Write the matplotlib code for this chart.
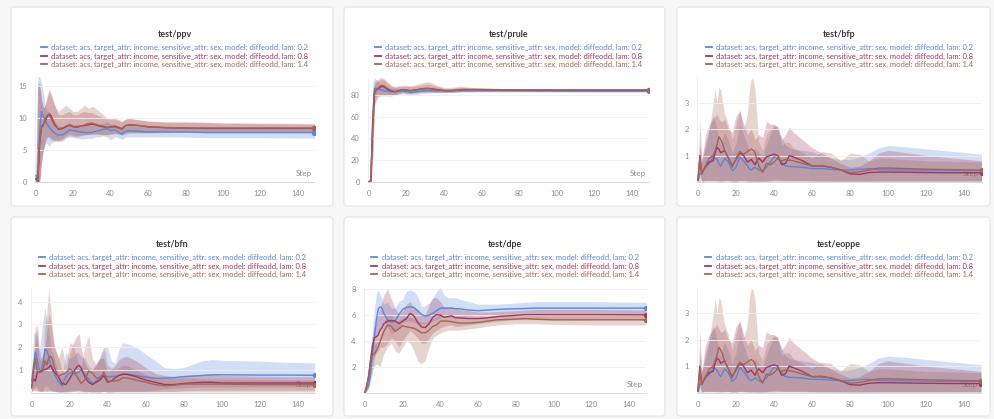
import matplotlib
matplotlib.use("Agg")
import matplotlib.pyplot as plt
from matplotlib.lines import Line2D
from matplotlib.patches import FancyBboxPatch

# run names and colours
run_labels = [
    "dataset: acs, target_attr: income, sensitive_attr: sex, model: diffeodd, lam: 0.2",
    "dataset: acs, target_attr: income, sensitive_attr: sex, model: diffeodd, lam: 0.8",
    "dataset: acs, target_attr: income, sensitive_attr: sex, model: diffeodd, lam: 1.4",
]
run_colors = ["#5a86d8", "#a3365f", "#a6654f"]

# ---- test/ppv ----
ppv_steps = [0, 1, 2, 3, 4, 5, 6, 7, 8, 10, 12, 14, 16, 18, 20, 22, 24, 26, 28, 30, 32, 34, 36, 38,
             40, 42, 44, 46, 48, 50, 55, 60, 70, 80, 90, 100, 120, 149]
ppv_b = [1.0, 0.0, 8.0, 11.0, 10.2, 9.6, 9.0, 8.6, 8.2, 7.6, 7.3, 7.3, 7.7, 8.1, 8.0, 7.9, 7.8, 7.7, 7.7,
         7.7, 7.9, 8.0, 8.2, 8.3, 8.0, 8.1, 7.8, 7.5, 7.9, 8.0, 7.9, 7.8, 7.8, 7.8, 7.7, 7.7, 7.7, 7.7]
ppv_b_lo = [0, 0, 0, 4, 5, 6, 6, 5.5, 6, 6.3, 6.5, 6.3, 6.8, 7.0, 7.0, 6.8, 6.7, 6.7, 6.8, 6.8, 7.0, 7.0,
            7.2, 7.0, 6.5, 7.0, 6.9, 6.6, 7.0, 7.0, 7.0, 7.0, 7.0, 7.0, 6.9, 6.9, 6.9, 6.8]
ppv_b_hi = [1.5, 16.5, 16.5, 15.5, 14, 12, 11, 11, 10.5, 9.5, 8.8, 8.6, 9.0, 9.2, 9.0, 9.0, 9.0, 8.8, 8.8,
            8.8, 8.9, 9.0, 9.2, 9.4, 9.0, 9.0, 8.8, 8.4, 8.7, 8.8, 8.7, 8.6, 8.5, 8.5, 8.5, 8.5, 8.5, 8.5]
ppv_r = [0.5, 0.0, 6.0, 8.6, 9.0, 9.5, 10.2, 10.6, 10.4, 9.0, 8.2, 8.3, 8.6, 8.9, 8.6, 8.6, 8.7, 8.8, 8.9,
         9.0, 8.9, 8.7, 8.6, 8.5, 8.6, 8.7, 8.5, 8.3, 8.8, 8.9, 8.8, 8.6, 8.45, 8.4, 8.35, 8.35, 8.35, 8.35]
ppv_r_lo = [0, 0, 0, 3, 5, 6, 7, 7, 6.8, 6.5, 6.5, 6.8, 7.2, 7.5, 7.3, 7.2, 7.3, 7.4, 7.4, 7.5, 7.5, 7.4,
            7.4, 7.4, 7.5, 7.6, 7.5, 7.3, 7.6, 7.7, 7.7, 7.7, 7.8, 7.8, 7.7, 7.7, 7.7, 7.7]
ppv_r_hi = [1.0, 15, 15, 13, 11.5, 12, 13.5, 14.5, 14, 12, 10.5, 10.5, 10.8, 11, 10.5, 10.5, 10.8, 11,
            10.8, 10.8, 10.5, 10.3, 10.0, 9.8, 9.8, 9.8, 9.6, 9.4, 9.8, 9.9, 9.7, 9.5, 9.3, 9.3, 9.3, 9.2,
            9.1, 9.0]
ppv_n = [0.3, 0.0, 6.5, 8.5, 8.8, 9.8, 10.4, 10.5, 10.0, 8.8, 8.3, 8.4, 8.7, 8.8, 8.6, 8.5, 8.7, 8.9, 9.1,
         9.2, 9.0, 8.8, 8.7, 8.5, 8.5, 8.6, 8.4, 8.2, 8.8, 8.9, 8.8, 8.6, 8.5, 8.4, 8.4, 8.4, 8.4, 8.4]
ppv_n_lo = [0, 0, 0, 3, 5, 6.5, 7, 7, 6.5, 6.5, 6.2, 6.5, 7.0, 7.2, 7.0, 7.0, 7.2, 7.3, 7.4, 7.4, 7.4,
            7.4, 7.3, 7.3, 7.4, 7.5, 7.5, 7.3, 7.5, 7.6, 7.6, 7.6, 7.7, 7.7, 7.7, 7.7, 7.7, 7.7]
ppv_n_hi = [1.0, 15.5, 15.5, 13, 11.5, 12, 13, 14, 13.5, 12, 11, 11.5, 12, 11.5, 11, 11, 11.5, 12, 11.5,
            11.8, 11.5, 11, 10.5, 10, 10, 10, 9.8, 9.5, 9.8, 9.9, 9.7, 9.5, 9.4, 9.4, 9.3, 9.2, 9.2, 9.1]

# ---- test/prule ----
prule_steps = [0, 1, 2, 3, 4, 5, 6, 7, 8, 10, 12, 14, 16, 18, 20, 22, 24, 26, 28, 30, 32, 34, 36, 38,
               40, 44, 48, 50, 55, 60, 70, 80, 90, 100, 120, 149]
prule_b = [0, 2, 60, 86, 86, 85.5, 85, 84.5, 84, 83.5, 83, 83, 83.5, 83.5, 83, 82.5, 82.5, 83, 83.5,
           84, 84, 84, 84, 84, 84, 84, 84, 84, 84, 84, 84, 83.8, 83.7, 83.6, 83.5, 83.5]
prule_b_lo = [0, 0, 30, 78, 80, 81, 80, 79, 79, 80, 80.5, 80.5, 81, 81, 80.5, 80, 80, 80.5, 81, 81.5,
              82, 82, 82, 82, 82.5, 82.5, 82.5, 82.5, 82.5, 82.8, 82.8, 82.8, 82.7, 82.6, 82.5, 82.5]
prule_b_hi = [0, 10, 92, 96, 94, 92, 90, 89, 88, 87, 86, 86, 86, 86, 85.5, 85, 85, 85.5, 86, 86.5,
              86.5, 86.5, 86, 86, 86, 85.5, 85.5, 85.5, 85.3, 85.2, 85, 85, 84.8, 84.7, 84.6, 84.5]
prule_r = [0, 0, 50, 82, 85, 86, 87, 88, 87.5, 85, 83.5, 83, 84, 85, 84.5, 84, 84.5, 85, 85.5, 86, 86,
           85.5, 85, 84.5, 84, 84, 84.5, 85, 85, 85, 84.8, 84.5, 84.5, 84.5, 84.5, 84.5]
prule_r_lo = [0, 0, 20, 72, 78, 80, 80, 80, 80, 80, 80, 80.5, 81.5, 82.5, 82, 81.5, 82, 82.5, 83, 83,
              83, 83, 82.5, 82.5, 82.5, 82.5, 83, 83.5, 83.5, 83.6, 83.6, 83.6, 83.6, 83.6, 83.6, 83.6]
prule_r_hi = [0, 5, 80, 90, 92, 93, 94, 95, 94, 91, 88, 87, 88, 88, 88, 88, 88, 88.5, 89, 90, 90, 89,
              88, 87, 86, 86, 87, 87, 86.5, 86.3, 86, 85.6, 85.5, 85.5, 85.5, 85.5]
prule_n = [0, 0, 52, 83, 85, 86.5, 88, 89, 88.5, 86, 84, 83, 84, 85, 84.5, 84, 84.5, 85, 85.5, 86, 86,
           85.5, 85, 84.5, 84, 84, 84.5, 85, 85, 85, 84.8, 84.6, 84.6, 84.6, 84.6, 84.6]
prule_n_lo = [0, 0, 22, 70, 75, 78, 79, 80, 80, 79, 79, 80, 81, 82, 81.5, 81.5, 82, 82.5, 82.5, 82.5,
              82.5, 82.5, 82.5, 82.5, 82.5, 82.5, 83, 83.3, 83.4, 83.5, 83.5, 83.5, 83.5, 83.5, 83.5, 83.5]
prule_n_hi = [0, 5, 82, 92, 94, 95, 96, 96, 95, 92, 89, 88, 88.5, 89, 89, 88.5, 89, 90, 91, 92, 92, 91,
              89, 88, 87, 87, 88, 88, 87, 86.5, 86, 85.8, 85.7, 85.6, 85.6, 85.6]

# ---- test/bfp ----
bfp_steps = [0, 1, 2, 4, 6, 8, 9, 10, 11, 12, 13, 14, 16, 18, 20, 22, 24, 26, 27, 28, 29, 30, 31, 32,
             34, 36, 38, 40, 42, 44, 46, 48, 50, 55, 60, 65, 70, 75, 80, 85, 90, 95, 100, 110, 120, 135, 149]
bfp_b = [0.05, 0.3, 0.35, 0.55, 0.7, 0.95, 0.9, 0.85, 0.7, 0.6, 0.75, 0.9, 0.75, 0.42, 0.55, 0.95, 0.8,
         0.6, 0.5, 0.45, 0.5, 0.55, 0.5, 0.45, 0.4, 0.55, 0.75, 0.95, 0.9, 0.75, 0.6, 0.58, 0.57, 0.55,
         0.5, 0.5, 0.47, 0.45, 0.45, 0.48, 0.5, 0.46, 0.45, 0.44, 0.43, 0.42, 0.42]
bfp_b_lo = [0.0, 0.0, 0.02, 0.05, 0.05, 0.05, 0.05, 0.05, 0.02, 0.02, 0.02, 0.05, 0.05, 0.02, 0.02, 0.05,
            0.05, 0.03, 0.02, 0.02, 0.02, 0.02, 0.02, 0.02, 0.02, 0.03, 0.05, 0.08, 0.08, 0.06, 0.05,
            0.05, 0.05, 0.05, 0.04, 0.03, 0.03, 0.02, 0.02, 0.02, 0.02, 0.03, 0.03, 0.03, 0.03, 0.03, 0.03]
bfp_b_hi = [0.1, 0.5, 0.8, 1.5, 2.0, 2.55, 2.3, 2.0, 1.6, 1.4, 1.7, 1.9, 1.6, 1.1, 1.5, 2.2, 1.8, 1.4,
            1.2, 1.1, 1.2, 1.3, 1.2, 1.1, 1.0, 1.4, 1.8, 2.1, 2.0, 1.7, 1.4, 1.3, 1.25, 1.2, 1.15, 1.0,
            0.9, 0.85, 0.85, 0.95, 1.1, 1.3, 1.38, 1.33, 1.25, 1.15, 1.05]
bfp_r = [0.05, 1.0, 0.3, 0.6, 0.75, 0.8, 1.1, 1.3, 1.25, 1.1, 1.15, 1.2, 0.9, 0.6, 0.85, 1.1, 1.0, 0.75,
         0.8, 0.85, 0.75, 0.65, 0.8, 0.9, 0.75, 0.95, 1.0, 1.05, 1.0, 0.65, 0.7, 1.0, 0.95, 0.8, 0.6, 0.6,
         0.55, 0.45, 0.3, 0.28, 0.35, 0.37, 0.37, 0.36, 0.35, 0.34, 0.34]
bfp_r_lo = [0.0, 0.3, 0.02, 0.03, 0.03, 0.03, 0.03, 0.03, 0.03, 0.03, 0.03, 0.03, 0.03, 0.02, 0.02, 0.03,
            0.03, 0.02, 0.02, 0.02, 0.02, 0.02, 0.02, 0.02, 0.02, 0.02, 0.03, 0.03, 0.03, 0.03, 0.03,
            0.03, 0.03, 0.03, 0.02, 0.02, 0.02, 0.02, 0.02, 0.02, 0.02, 0.02, 0.02, 0.02, 0.02, 0.02, 0.02]
bfp_r_hi = [0.1, 2.4, 0.8, 1.8, 2.2, 2.4, 2.5, 2.6, 2.4, 2.3, 2.3, 2.4, 2.0, 1.9, 2.5, 2.7, 2.2, 1.8,
            1.9, 2.0, 1.8, 1.6, 1.7, 1.8, 1.7, 2.3, 2.2, 2.2, 2.1, 1.6, 1.8, 2.1, 1.9, 1.6, 1.3, 1.1, 0.9,
            0.7, 0.55, 0.6, 0.8, 1.1, 1.2, 1.1, 1.0, 0.9, 0.8]
bfp_n = [0.1, 0.9, 0.3, 0.6, 0.9, 1.0, 1.2, 1.4, 1.72, 1.6, 1.45, 1.2, 0.9, 0.55, 0.9, 1.15, 1.05, 1.15,
         1.2, 1.25, 1.2, 1.1, 0.85, 0.6, 0.35, 0.7, 0.65, 0.75, 0.9, 0.8, 0.85, 0.82, 0.8, 0.7, 0.6, 0.62,
         0.55, 0.45, 0.35, 0.38, 0.45, 0.52, 0.52, 0.5, 0.48, 0.46, 0.44]
bfp_n_lo = [0.0, 0.2, 0.02, 0.03, 0.03, 0.03, 0.03, 0.03, 0.03, 0.03, 0.03, 0.03, 0.03, 0.02, 0.02, 0.03,
            0.03, 0.03, 0.03, 0.03, 0.03, 0.03, 0.02, 0.02, 0.02, 0.02, 0.02, 0.02, 0.02, 0.02, 0.02,
            0.02, 0.02, 0.02, 0.02, 0.02, 0.02, 0.02, 0.02, 0.02, 0.02, 0.02, 0.02, 0.02, 0.02, 0.02, 0.02]
bfp_n_hi = [0.2, 1.5, 0.8, 1.3, 2.0, 3.0, 3.55, 3.0, 3.6, 3.5, 3.0, 2.6, 2.2, 1.6, 2.2, 2.75, 2.0, 2.6,
            3.5, 3.95, 3.9, 3.5, 2.5, 1.5, 1.2, 1.8, 2.0, 2.15, 2.1, 1.4, 1.5, 1.5, 1.3, 1.1, 0.9, 1.15,
            1.1, 0.8, 1.1, 1.05, 0.8, 0.9, 0.9, 0.85, 0.8, 0.78, 0.75]

# ---- test/bfn ----
bfn_steps = [0, 1, 2, 3, 4, 5, 6, 7, 8, 9, 10, 11, 12, 14, 16, 18, 20, 22, 24, 25, 26, 28, 30, 32, 34,
             36, 38, 40, 42, 44, 46, 48, 50, 55, 60, 65, 70, 75, 80, 90, 95, 100, 120, 135, 149]
bfn_b = [0.5, 1.2, 1.8, 1.4, 1.0, 0.9, 1.3, 1.9, 1.85, 1.6, 1.2, 1.0, 0.8, 0.5, 0.3, 0.7, 0.85, 0.9,
         0.85, 0.9, 1.0, 0.8, 0.6, 0.4, 0.5, 0.7, 0.75, 0.7, 0.7, 0.72, 0.75, 0.82, 0.82, 0.75, 0.68, 0.63,
         0.63, 0.65, 0.7, 0.75, 0.78, 0.78, 0.77, 0.77, 0.76]
bfn_b_lo = [0.1, 0.2, 0.3, 0.2, 0.1, 0.05, 0.1, 0.3, 0.3, 0.2, 0.1, 0.1, 0.05, 0.02, 0.02, 0.05, 0.1, 0.1,
            0.1, 0.1, 0.1, 0.05, 0.05, 0.02, 0.05, 0.05, 0.05, 0.05, 0.05, 0.05, 0.05, 0.05, 0.05, 0.05,
            0.05, 0.1, 0.15, 0.2, 0.2, 0.25, 0.25, 0.25, 0.25, 0.25, 0.25]
bfn_b_hi = [0.9, 2.6, 2.7, 2.2, 1.8, 2.5, 3.2, 3.75, 3.2, 2.8, 2.0, 1.7, 1.5, 0.9, 0.7, 1.8, 1.5, 1.6,
            1.8, 1.7, 1.6, 1.5, 1.2, 1.0, 1.2, 1.6, 2.0, 2.0, 1.4, 1.3, 1.9, 2.2, 2.15, 2.0, 1.7, 1.4, 1.1,
            1.05, 1.1, 1.4, 1.45, 1.42, 1.38, 1.33, 1.3]
bfn_r = [0.3, 0.6, 0.5, 0.9, 0.9, 0.95, 1.0, 1.0, 1.05, 1.1, 1.2, 1.05, 0.9, 0.7, 0.4, 0.35, 0.6, 0.9,
         1.15, 1.2, 1.1, 0.7, 0.45, 0.35, 0.45, 0.55, 0.75, 0.45, 0.5, 0.65, 0.75, 0.8, 0.8, 0.7, 0.55,
         0.45, 0.35, 0.35, 0.4, 0.45, 0.45, 0.42, 0.42, 0.42, 0.42]
bfn_r_lo = [0.05, 0.1, 0.05, 0.1, 0.05, 0.05, 0.05, 0.05, 0.05, 0.05, 0.05, 0.05, 0.05, 0.03, 0.02, 0.02,
            0.02, 0.05, 0.1, 0.1, 0.05, 0.03, 0.02, 0.02, 0.02, 0.02, 0.05, 0.02, 0.02, 0.05, 0.05, 0.05,
            0.05, 0.05, 0.05, 0.05, 0.05, 0.05, 0.08, 0.1, 0.1, 0.1, 0.1, 0.1, 0.1]
bfn_r_hi = [0.6, 1.0, 2.5, 3.0, 2.0, 1.5, 1.7, 2.0, 2.7, 3.5, 3.2, 2.5, 2.0, 1.6, 1.0, 0.8, 1.7, 2.2,
            2.5, 2.6, 2.0, 1.3, 1.0, 1.0, 1.3, 1.5, 1.5, 0.9, 1.0, 1.2, 1.45, 1.55, 1.6, 1.4, 1.1, 0.85,
            0.75, 0.72, 0.75, 0.8, 0.8, 0.75, 0.72, 0.7, 0.7]
bfn_n = [0.2, 0.9, 1.5, 0.9, 0.9, 0.9, 0.95, 1.4, 1.2, 1.55, 1.6, 1.45, 1.1, 0.7, 0.8, 0.85, 1.05, 0.9,
         0.7, 0.55, 0.4, 0.55, 0.95, 0.85, 0.65, 0.6, 0.9, 0.5, 0.5, 0.5, 0.55, 0.65, 0.65, 0.55, 0.45,
         0.35, 0.3, 0.32, 0.37, 0.37, 0.37, 0.37, 0.35, 0.35, 0.34]
bfn_n_lo = [0.02, 0.1, 0.2, 0.05, 0.05, 0.05, 0.05, 0.1, 0.05, 0.1, 0.1, 0.05, 0.05, 0.03, 0.03, 0.03,
            0.05, 0.05, 0.03, 0.02, 0.02, 0.02, 0.05, 0.05, 0.03, 0.02, 0.05, 0.02, 0.02, 0.02, 0.02,
            0.02, 0.02, 0.02, 0.02, 0.02, 0.02, 0.02, 0.02, 0.02, 0.02, 0.02, 0.02, 0.02, 0.02]
bfn_n_hi = [0.5, 1.5, 3.0, 2.5, 1.5, 1.4, 1.6, 3.0, 3.5, 4.6, 3.8, 2.8, 2.0, 1.5, 2.0, 1.2, 2.2, 2.1,
            1.5, 1.2, 1.0, 2.0, 2.5, 1.5, 1.2, 1.5, 2.0, 1.2, 1.1, 1.0, 1.1, 1.2, 1.2, 1.0, 0.8, 0.65,
            0.6, 0.62, 0.65, 0.62, 0.6, 0.6, 0.58, 0.56, 0.55]

# ---- test/dpe ----
dpe_steps = [0, 1, 2, 3, 4, 5, 6, 7, 8, 9, 10, 12, 14, 16, 18, 20, 22, 24, 26, 28, 30, 32, 34, 36, 38,
             40, 42, 44, 46, 48, 50, 55, 60, 65, 70, 80, 85, 90, 100, 120, 149]
dpe_b = [0, 0.3, 0.6, 1.5, 3.0, 4.2, 5.5, 6.4, 6.6, 6.5, 6.1, 5.6, 5.4, 5.5, 6.0, 6.4, 6.55, 6.6, 6.55,
         6.3, 6.0, 5.9, 5.95, 6.1, 6.3, 6.5, 6.5, 6.5, 6.5, 6.45, 6.45, 6.35, 6.3, 6.35, 6.4, 6.45, 6.47,
         6.5, 6.5, 6.5, 6.5]
dpe_b_lo = [0, 0.1, 0.3, 0.8, 1.5, 2.5, 3.5, 4.5, 5.0, 5.2, 5.5, 5.0, 4.5, 4.7, 5.0, 5.4, 5.5, 5.5, 5.4,
            5.3, 5.3, 5.3, 5.4, 5.5, 5.6, 5.8, 5.8, 5.8, 5.8, 5.8, 5.8, 5.85, 5.9, 5.95, 6.0, 6.1, 6.1,
            6.1, 6.1, 6.1, 6.05]
dpe_b_hi = [0.2, 0.6, 1.0, 2.5, 5.0, 6.5, 7.5, 7.9, 7.6, 7.2, 6.8, 7.0, 6.5, 6.5, 7.0, 7.2, 7.8, 7.9,
            7.8, 7.4, 6.6, 6.7, 6.9, 7.3, 7.8, 8.1, 7.5, 7.3, 7.3, 7.3, 7.2, 7.0, 6.8, 6.8, 6.8, 6.9,
            6.95, 7.0, 7.0, 7.0, 6.95]
dpe_r = [0, 0.6, 1.2, 2.5, 3.6, 4.2, 4.3, 4.4, 4.8, 5.0, 5.3, 5.5, 5.55, 5.5, 5.3, 5.5, 5.7, 6.1, 5.9,
         5.4, 5.05, 5.0, 5.3, 5.8, 6.0, 5.95, 5.8, 5.85, 5.9, 5.75, 5.75, 5.7, 5.7, 5.75, 5.85, 5.95, 6.0,
         6.0, 6.0, 6.0, 5.98]
dpe_r_lo = [0, 0.2, 0.4, 1.5, 2.5, 2.8, 3.0, 3.2, 3.5, 3.5, 3.5, 3.8, 4.2, 4.0, 3.5, 4.0, 4.4, 4.8, 4.5,
            4.2, 3.8, 3.8, 4.2, 4.6, 4.8, 5.0, 5.1, 5.2, 5.2, 5.1, 5.1, 5.2, 5.3, 5.4, 5.5, 5.6, 5.6, 5.6,
            5.6, 5.6, 5.6]
dpe_r_hi = [0.2, 1.2, 2.0, 3.5, 4.5, 5.2, 5.5, 6.0, 6.5, 7.0, 7.5, 8.0, 7.2, 6.5, 6.0, 6.3, 6.8, 7.0,
            6.5, 6.4, 6.0, 6.0, 6.8, 7.3, 7.3, 7.0, 6.6, 6.6, 6.6, 6.5, 6.4, 6.3, 6.2, 6.2, 6.25, 6.3,
            6.35, 6.4, 6.4, 6.4, 6.35]
dpe_n = [0, 0.5, 1.3, 2.5, 2.9, 3.0, 3.2, 3.5, 3.9, 4.3, 4.7, 5.2, 5.1, 4.7, 4.9, 5.15, 5.05, 5.0, 4.95,
         4.8, 4.6, 4.6, 4.8, 5.1, 5.2, 5.5, 5.5, 5.5, 5.45, 5.4, 5.35, 5.35, 5.4, 5.5, 5.6, 5.65, 5.7,
         5.65, 5.6, 5.6, 5.6]
dpe_n_lo = [0, 0.2, 0.5, 1.2, 1.8, 2.0, 2.2, 2.1, 2.0, 2.5, 3.0, 3.5, 3.8, 3.2, 3.0, 3.5, 4.0, 3.8, 3.2,
            2.4, 2.2, 2.5, 3.5, 4.2, 4.4, 4.6, 4.7, 4.8, 4.8, 4.8, 4.8, 4.9, 5.0, 5.1, 5.2, 5.3, 5.3, 5.3,
            5.25, 5.2, 5.2]
dpe_n_hi = [0.2, 1.0, 2.0, 3.2, 3.5, 3.7, 3.8, 4.2, 4.5, 5.0, 5.5, 6.0, 6.0, 5.5, 5.6, 5.8, 5.8, 5.8,
            5.7, 5.5, 5.4, 5.4, 5.5, 5.7, 5.8, 6.1, 6.0, 6.0, 5.9, 5.8, 5.8, 5.8, 5.8, 5.85, 5.9, 6.0,
            6.0, 6.0, 6.0, 5.97, 5.95]

# test/eoppe looks the same as test/bfp in the dashboard
eoppe_steps = bfp_steps
eoppe_b, eoppe_b_lo, eoppe_b_hi = bfp_b, bfp_b_lo, bfp_b_hi
eoppe_r, eoppe_r_lo, eoppe_r_hi = bfp_r, bfp_r_lo, bfp_r_hi
eoppe_n, eoppe_n_lo, eoppe_n_hi = bfp_n, bfp_n_lo, bfp_n_hi

panels = [
    ("test/ppv", ppv_steps, [(ppv_b, ppv_b_lo, ppv_b_hi), (ppv_r, ppv_r_lo, ppv_r_hi), (ppv_n, ppv_n_lo, ppv_n_hi)],
     16.4, [0, 5, 10, 15]),
    ("test/prule", prule_steps, [(prule_b, prule_b_lo, prule_b_hi), (prule_r, prule_r_lo, prule_r_hi),
                                 (prule_n, prule_n_lo, prule_n_hi)], 96.6, [0, 20, 40, 60, 80]),
    ("test/bfp", bfp_steps, [(bfp_b, bfp_b_lo, bfp_b_hi), (bfp_r, bfp_r_lo, bfp_r_hi), (bfp_n, bfp_n_lo, bfp_n_hi)],
     4.0, [1, 2, 3]),
    ("test/bfn", bfn_steps, [(bfn_b, bfn_b_lo, bfn_b_hi), (bfn_r, bfn_r_lo, bfn_r_hi), (bfn_n, bfn_n_lo, bfn_n_hi)],
     4.65, [1, 2, 3, 4]),
    ("test/dpe", dpe_steps, [(dpe_b, dpe_b_lo, dpe_b_hi), (dpe_r, dpe_r_lo, dpe_r_hi), (dpe_n, dpe_n_lo, dpe_n_hi)],
     8.05, [2, 4, 6, 8]),
    ("test/eoppe", eoppe_steps, [(eoppe_b, eoppe_b_lo, eoppe_b_hi), (eoppe_r, eoppe_r_lo, eoppe_r_hi),
                                 (eoppe_n, eoppe_n_lo, eoppe_n_hi)], 4.0, [1, 2, 3]),
]

# layout in pixels (left, top, right, bottom)
W, H = 994, 419
cards = [(11, 7, 333, 206), (344, 7, 665, 206), (677, 7, 990, 206),
         (11, 217, 333, 416), (344, 217, 665, 416), (677, 217, 990, 416)]
plot_boxes = [(35, 77, 314.5, 181.7), (368, 77, 648.5, 181.7), (697, 77, 981.5, 181.7),
              (30.7, 287, 314.5, 392.5), (364, 288, 646, 392.5), (697, 287, 981, 392.5)]

plt.rcParams['font.family'] = ['Lato', 'DejaVu Sans']
fig = plt.figure(figsize=(W / 100, H / 100), dpi=100)
fig.patch.set_facecolor('#f7f7f7')

for (title, steps, series, ytop, yticks), card, box in zip(panels, cards, plot_boxes):
    cl, ct, cr, cb = card
    fig.patches.append(FancyBboxPatch(((cl) / 100, (H - cb) / 100), (cr - cl) / 100, (cb - ct) / 100,
                                      boxstyle="round,pad=0,rounding_size=0.03",
                                      transform=fig.dpi_scale_trans, facecolor='white',
                                      edgecolor='#e2e2e2', linewidth=0.8, zorder=-5))
    l, t, r, b = box
    ax = fig.add_axes([l / W, 1 - b / H, (r - l) / W, (b - t) / H])
    ax.set_facecolor('none')

    for (mean, lo, hi), c in zip(series, run_colors):
        ax.fill_between(steps, lo, hi, color=c, alpha=0.27, linewidth=0, zorder=1)
    for (mean, lo, hi), c in zip(series, run_colors):
        ax.plot(steps, mean, color=c, lw=1.0, zorder=3)
        ax.plot(steps[-1], mean[-1], 'o', color=c, ms=2.8, zorder=4)

    ax.set_xlim(-0.5, 149)
    ax.set_ylim(0, ytop)
    ax.set_xticks([0, 20, 40, 60, 80, 100, 120, 140])
    ax.set_yticks(yticks)
    ax.grid(axis='y', color='#efefef', lw=0.6, zorder=0)
    ax.tick_params(length=0, labelsize=5.4, labelcolor='#8a8a8a', pad=6)
    for s in ['top', 'right']:
        ax.spines[s].set_visible(False)
    ax.spines['left'].set_color('#ececec')
    ax.spines['left'].set_linewidth(0.6)
    ax.spines['bottom'].set_color('#d4d4d4')
    ax.spines['bottom'].set_linewidth(0.6)
    ax.text(0.99, 0.045, "Step", transform=ax.transAxes, ha='right', va='bottom',
            fontsize=5.8, color='#8a8a8a', zorder=0.5)

    cx = (l + r) / 2 / W
    fig.text(cx, 1 - (ct + 27.3) / H, title, ha='center', va='center',
             fontsize=6.4, fontweight='bold', color='#3a3a3a')
    handles = [Line2D([], [], color=c, lw=1.3) for c in run_colors]
    ax.legend(handles, run_labels, loc='center', bbox_to_anchor=(cx, 1 - (ct + 49) / H),
              bbox_transform=fig.transFigure, frameon=False, fontsize=5.5,
              handlelength=0.8, handletextpad=0.55, labelspacing=0.18, borderpad=0,
              labelcolor='linecolor')

fig.savefig("out.png", dpi=100, facecolor=fig.get_facecolor())
